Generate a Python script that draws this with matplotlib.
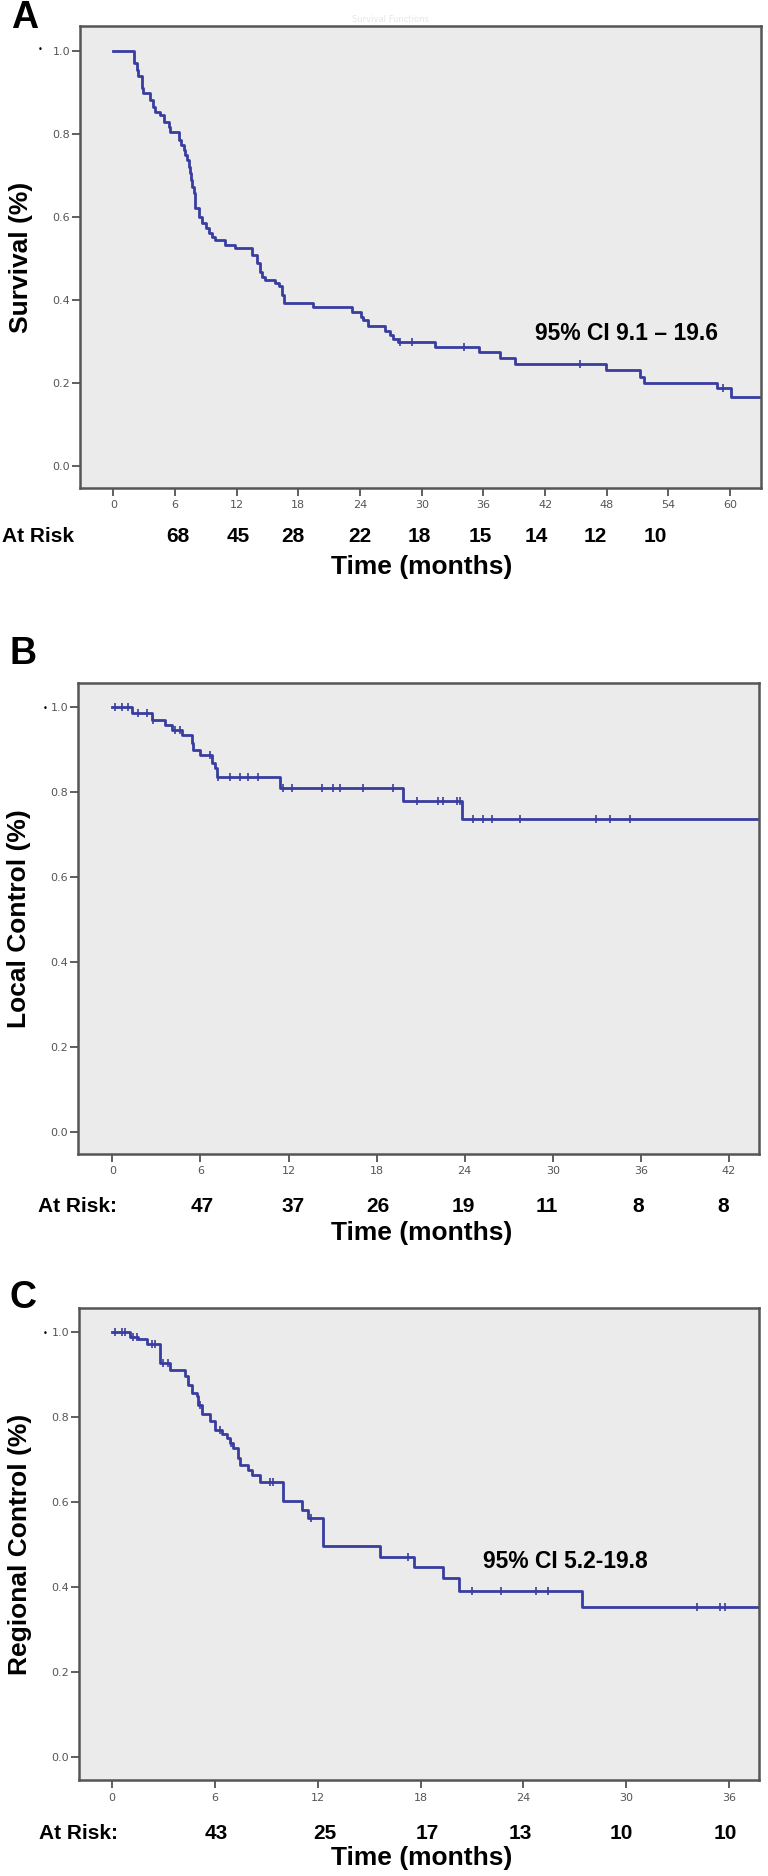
import numpy as np
import matplotlib
matplotlib.use('Agg')
import matplotlib.pyplot as plt
import matplotlib.transforms as mtransforms

# --- data ---
# A: overall survival
a_times = [0, 1.97, 2.29, 2.45, 2.78, 2.9, 3.59, 3.9, 4.08, 4.56, 4.89, 5.37, 5.54,
           6.35, 6.6, 6.84, 7.0, 7.16, 7.35, 7.49, 7.6, 7.65, 7.8, 7.9, 7.97,
           8.3, 8.62, 9.0, 9.27, 9.6, 9.92, 10.89, 11.87,
           13.49, 14.0, 14.3, 14.46, 14.79, 15.76, 16.09, 16.41, 16.6,
           19.4, 23.26, 24.1, 24.3, 24.8, 26.47, 26.95, 27.2, 27.67,
           31.27, 35.59, 37.65, 39.09, 47.92, 51.27, 51.66, 58.71, 60.05]
a_surv = [1.0, 0.969, 0.953, 0.939, 0.909, 0.897, 0.881, 0.865, 0.853, 0.845, 0.829, 0.817, 0.805,
          0.785, 0.773, 0.761, 0.748, 0.736, 0.72, 0.704, 0.688, 0.672, 0.656, 0.64, 0.62,
          0.6, 0.584, 0.572, 0.56, 0.552, 0.544, 0.532, 0.524,
          0.508, 0.488, 0.468, 0.456, 0.448, 0.44, 0.432, 0.412, 0.393,
          0.383, 0.371, 0.359, 0.351, 0.337, 0.326, 0.315, 0.305, 0.299,
          0.287, 0.275, 0.259, 0.245, 0.231, 0.215, 0.2, 0.187, 0.167]
a_cens = [27.9, 29.1, 34.15, 45.42, 59.33]
a_risk = [68, 45, 28, 22, 18, 15, 14, 12, 10]
a_risk_at = [6.3, 12.2, 17.5, 24.0, 29.8, 35.7, 41.1, 46.9, 52.7]

# B: local control
b_times = [0, 1.32, 2.68, 3.59, 4.05, 4.73, 5.41, 5.52, 5.97, 6.77, 7.0, 7.11, 11.42, 19.82, 23.8]
b_ctrl = [1.0, 0.985, 0.970, 0.957, 0.945, 0.933, 0.914, 0.898, 0.886, 0.867, 0.855, 0.835, 0.81, 0.778, 0.735]
b_cens = [0.18, 0.64, 1.09, 1.77, 2.34, 2.79, 4.27, 4.61, 6.66, 7.22, 8.02, 8.7, 9.26, 9.95,
          11.65, 12.22, 14.26, 15.05, 15.51, 17.1, 19.14, 20.73, 22.2, 22.55, 23.46, 23.69,
          24.55, 25.27, 25.85, 27.77, 32.95, 33.9, 35.27]
b_risk = [47, 37, 26, 19, 11, 8, 8]
b_risk_at = [6.1, 12.3, 18.1, 23.9, 29.6, 35.8, 41.6]

# C: regional control
c_times = [0, 1.03, 1.52, 2.01, 2.78, 3.37, 4.24, 4.44, 4.63, 4.93, 5.02, 5.22,
           5.7, 6.0, 6.39, 6.68, 6.87, 7.06, 7.36, 7.45, 7.94, 8.14, 8.62,
           9.98, 11.06, 11.4, 12.32, 15.63, 17.6, 19.32, 20.25, 27.44]
c_ctrl = [1.0, 0.988, 0.983, 0.972, 0.927, 0.911, 0.896, 0.876, 0.857, 0.849, 0.829, 0.806,
          0.79, 0.77, 0.759, 0.751, 0.739, 0.727, 0.704, 0.688, 0.676, 0.664, 0.647,
          0.602, 0.582, 0.562, 0.496, 0.47, 0.447, 0.421, 0.392, 0.353]
c_cens = [0.16, 0.55, 0.74, 1.23, 1.42, 2.3, 2.49, 2.98, 3.27, 5.1, 6.3, 6.95, 9.21, 9.4,
          11.6, 17.26, 20.99, 22.72, 24.73, 25.42, 34.13, 35.49, 35.78]
c_risk = [43, 25, 17, 13, 10, 10]
c_risk_at = [6.1, 12.4, 18.4, 23.8, 29.7, 35.8]

W, H = 768, 1876
fig = plt.figure(figsize=(W / 100, H / 100), dpi=100)

line_col = '#383d9f'
bold = dict(family=['Liberation Sans', 'DejaVu Sans'], fontweight='bold', color='black')


def box(l, t, r, b):
    # pixel box (from top-left) -> figure fraction rect
    return [l / W, 1 - b / H, (r - l) / W, (b - t) / H]


def fy(y):
    return 1 - y / H


def km_panel(rect, times, vals, cens, xmax, xlim, ylim, ylabel):
    ax = fig.add_axes(rect)
    ax.set_facecolor('#ebebeb')
    for s in ax.spines.values():
        s.set_color('#555555')
        s.set_linewidth(1.8)
    ax.step(list(times) + [xlim[1]], list(vals) + [vals[-1]], where='post',
            color=line_col, lw=2.0)
    idx = np.searchsorted(times, cens, side='right') - 1
    ax.plot(cens, np.array(vals)[idx], ls='none', marker='|', ms=6, mew=1.2, color=line_col)
    ax.set_xlim(*xlim)
    ax.set_ylim(*ylim)
    ax.set_xticks(np.arange(0, xmax + 1, 6))
    ax.set_yticks([0, 0.2, 0.4, 0.6, 0.8, 1.0])
    ax.set_yticklabels(['0.0', '0.2', '0.4', '0.6', '0.8', '1.0'])
    ax.tick_params(direction='out', length=6, width=1.2, color='#444444',
                   labelsize=8, labelcolor='#555555')
    ax.tick_params(axis='y', pad=1)
    ax.tick_params(axis='x', pad=3)
    ax.set_ylabel(ylabel, fontsize=19, labelpad=14, **bold)
    return ax


def at_risk(ax, label, x_px, y_px, counts, where):
    fig.text(x_px / W, fy(y_px), label, fontsize=15, va='center', ha='left', **bold)
    tr = mtransforms.blended_transform_factory(ax.transData, fig.transFigure)
    for n, t in zip(counts, where):
        ax.text(t, fy(y_px), str(n), transform=tr, fontsize=15, ha='center', va='center', **bold)


# ---- A ----
axA = km_panel(box(80, 26, 761, 488), a_times, a_surv, a_cens, 60,
               (-3.24, 63.0), (-0.053, 1.059), 'Survival (%)')
at_risk(axA, 'At Risk', 2, 537, a_risk, a_risk_at)
fig.text(422 / W, fy(567), 'Time (months)', fontsize=19, ha='center', va='center', **bold)
fig.text(535 / W, fy(333), '95% CI 9.1 \u2013 19.6', fontsize=16.5, ha='left', va='center', **bold)
fig.text(25 / W, fy(18), 'A', fontsize=27, ha='center', va='center', **bold)
fig.text(390 / W, fy(20), 'Survival Functions', fontsize=6, ha='center', va='center', color='#e6e6e6')
fig.text(40 / W, fy(50), '\u2022', fontsize=6, ha='center', va='center')

# ---- B ----
axB = km_panel(box(78, 683, 759, 1154), b_times, b_ctrl, b_cens, 42,
               (-2.34, 44.05), (-0.052, 1.056), 'Local Control (%)')
at_risk(axB, 'At Risk:', 38, 1207, b_risk, b_risk_at)
fig.text(422 / W, fy(1233), 'Time (months)', fontsize=19, ha='center', va='center', **bold)
fig.text(23 / W, fy(654), 'B', fontsize=27, ha='center', va='center', **bold)
fig.text(45 / W, fy(708), '\u2022', fontsize=6, ha='center', va='center')

# ---- C ----
axC = km_panel(box(79, 1308, 759, 1780), c_times, c_ctrl, c_cens, 36,
               (-1.94, 37.75), (-0.053, 1.056), 'Regional Control (%)')
at_risk(axC, 'At Risk:', 39, 1833, c_risk, c_risk_at)
fig.text(422 / W, fy(1858), 'Time (months)', fontsize=19, ha='center', va='center', **bold)
fig.text(483 / W, fy(1562), '95% CI 5.2-19.8', fontsize=16.5, ha='left', va='center', **bold)
fig.text(23 / W, fy(1298), 'C', fontsize=27, ha='center', va='center', **bold)
fig.text(45 / W, fy(1334), '\u2022', fontsize=6, ha='center', va='center')

fig.savefig('out.png', dpi=100, facecolor='white')
